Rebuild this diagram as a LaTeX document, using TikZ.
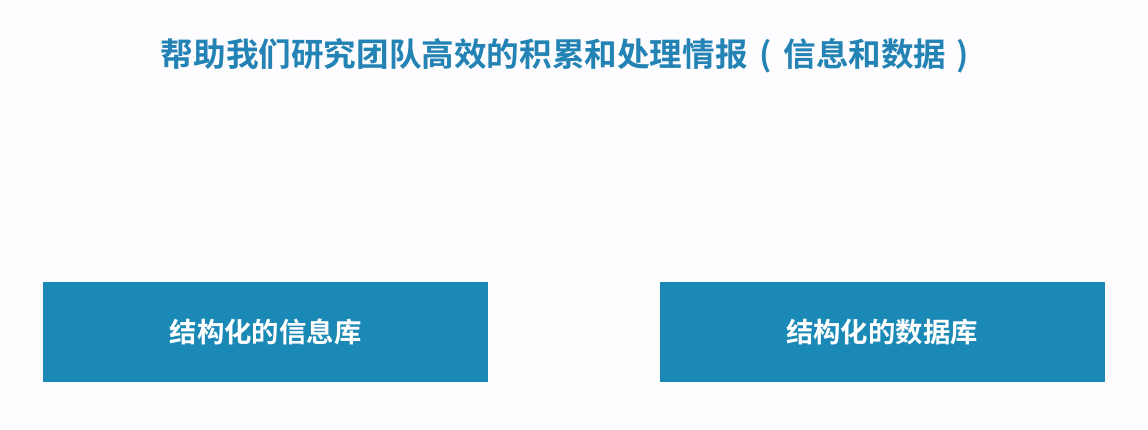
\documentclass[tikz,border=0pt]{standalone}
\usepackage{fontspec}
\newfontfamily\cjk{Noto Sans CJK SC}[BoldFont={* Bold}]
\definecolor{boxblue}{HTML}{1B89B6}
\definecolor{titleblue}{HTML}{2383B4}
\definecolor{bg}{HTML}{FDFCFE}
\begin{document}
\begin{tikzpicture}[x=1pt,y=-1pt,
  dbbox/.style={fill=boxblue,draw=none,minimum width=445pt,minimum height=100pt,inner sep=0pt,text=white,font=\cjk\bfseries\fontsize{27.4}{30}\selectfont},
  titletext/.style={text=titleblue,font=\cjk\bfseries\fontsize{32.6}{36}\selectfont,inner sep=0pt}]
\fill[bg] (0,0) rectangle (1148,430);
\useasboundingbox (0,0) rectangle (1148,430);
\node[titletext] (title) at (570,56) {帮助我们研究团队高效的积累和处理情报\makebox[1.1em][c]{(}信息和数据\makebox[1em][c]{)}};
\node[dbbox] (info) at (265.5,332) {结构化的信息库};
\node[dbbox] (data) at (882,332) {结构化的数据库};
\end{tikzpicture}
\end{document}
